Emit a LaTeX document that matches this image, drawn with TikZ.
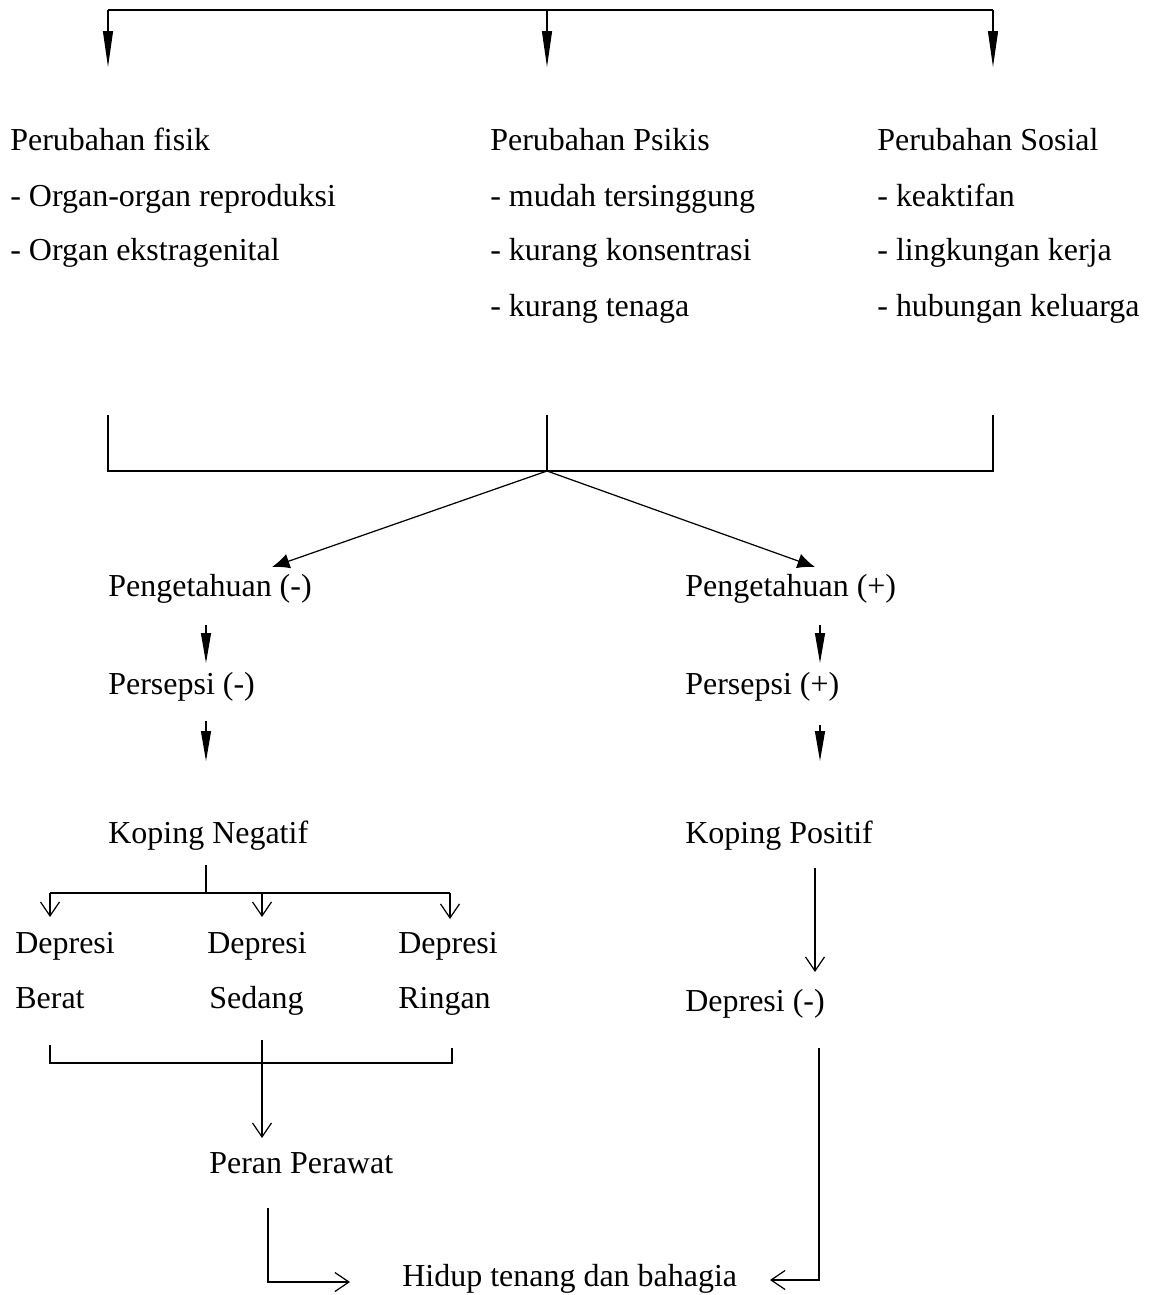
\documentclass[tikz,border=0pt]{standalone}
\usepackage{fontspec}
\setmainfont{Liberation Serif}
\usetikzlibrary{arrows.meta}
\begin{document}
\begin{tikzpicture}[x=0.02cm,y=-0.02cm,
  txt/.style={anchor=base west,inner sep=0pt,font=\fontsize{18.2}{22}\selectfont},
  ln/.style={line width=0.7pt},
  bigtip/.style={ln,-{Triangle[length=0.72cm,width=0.2cm]}},
  smalltip/.style={ln,-{Triangle[length=0.6cm,width=0.2cm]}},
  diagtip/.style={ln,-{Latex[length=0.35cm,width=0.3cm]}},
  vtip/.style={ln,-{Straight Barb[length=0.28cm,width=0.38cm]}}]
\useasboundingbox (0,0) rectangle (1157,1295);
% texts
\node[txt] (f0) at (10,150) {Perubahan fisik};
\node[txt] (f1) at (10,206) {- Organ-organ reproduksi};
\node[txt] (f2) at (10,260) {- Organ ekstragenital};
\node[txt] (p0) at (490,150) {Perubahan Psikis};
\node[txt] (p1) at (490,206) {- mudah tersinggung};
\node[txt] (p2) at (490,260) {- kurang konsentrasi};
\node[txt] (p3) at (490,316) {- kurang tenaga};
\node[txt] (s0) at (877,150) {Perubahan Sosial};
\node[txt] (s1) at (877,206) {- keaktifan};
\node[txt] (s2) at (877,260) {- lingkungan kerja};
\node[txt] (s3) at (877,316) {- hubungan keluarga};
\node[txt] (pgn) at (108,596) {Pengetahuan (-)};
\node[txt] (pgp) at (685,596) {Pengetahuan (+)};
\node[txt] (psn) at (108,694) {Persepsi (-)};
\node[txt] (psp) at (685,694) {Persepsi (+)};
\node[txt] (kn) at (108,843) {Koping Negatif};
\node[txt] (kp) at (685,843) {Koping Positif};
\node[txt] (d1) at (15,953) {Depresi};
\node[txt] (d2) at (207,953) {Depresi};
\node[txt] (d3) at (398,953) {Depresi};
\node[txt] (b1) at (15,1008) {Berat};
\node[txt] (b2) at (209,1008) {Sedang};
\node[txt] (b3) at (398,1008) {Ringan};
\node[txt] (dm) at (685,1011) {Depresi (-)};
\node[txt] (pp) at (209,1173) {Peran Perawat};
\node[txt] (hd) at (402,1286) {Hidup tenang dan bahagia};
% coordinates
\coordinate (tL) at (108,10);
\coordinate (tM) at (547,10);
\coordinate (tR) at (993,10);
\coordinate (aL) at (108,67);
\coordinate (aM) at (547,67);
\coordinate (aR) at (993,67);
\coordinate (uL) at (108,415);
\coordinate (uM) at (547,415);
\coordinate (uR) at (993,415);
\coordinate (lL) at (108,471);
\coordinate (lM) at (547,471);
\coordinate (lR) at (993,471);
\coordinate (gL) at (272,567);
\coordinate (gR) at (815,567);
% top bracket
\draw[ln] (tL) -- (tR);
\draw[bigtip] (tL) -- (aL);
\draw[bigtip] (tM) -- (aM);
\draw[bigtip] (tR) -- (aR);
% middle bracket
\draw[ln] (uL) -- (lL) -- (lR) -- (uR);
\draw[ln] (uM) -- (lM);
\draw[diagtip] (lM) -- (gL);
\draw[diagtip] (lM) -- (gR);
% chains
\coordinate (c1a) at (206,625); \coordinate (c1b) at (206,663);
\coordinate (c2a) at (206,721); \coordinate (c2b) at (206,761);
\coordinate (c3a) at (820,625); \coordinate (c3b) at (820,663);
\coordinate (c4a) at (820,725); \coordinate (c4b) at (820,761);
\draw[smalltip] (c1a) -- (c1b);
\draw[smalltip] (c2a) -- (c2b);
\draw[smalltip] (c3a) -- (c3b);
\draw[smalltip] (c4a) -- (c4b);
% koping negatif split
\coordinate (kn1) at (206,865);
\coordinate (kn2) at (206,893);
\coordinate (hL) at (50,893);
\coordinate (hM) at (262,893);
\coordinate (hR) at (450,893);
\coordinate (vL) at (50,917);
\coordinate (vM) at (262,917);
\coordinate (vR) at (450,919);
\draw[ln] (kn1) -- (kn2);
\draw[ln] (hL) -- (hR);
\draw[vtip] (hL) -- (vL);
\draw[vtip] (hM) -- (vM);
\draw[vtip] (hR) -- (vR);
% lower bracket
\coordinate (q1) at (50,1045);
\coordinate (q2) at (50,1063);
\coordinate (q3) at (452,1063);
\coordinate (q4) at (452,1048);
\coordinate (q5) at (262,1040);
\coordinate (q6) at (262,1138);
\draw[ln] (q1) -- (q2) -- (q3) -- (q4);
\draw[vtip] (q5) -- (q6);
% peran to hidup
\coordinate (r1) at (268,1208);
\coordinate (r2) at (268,1282);
\coordinate (r3) at (350,1282);
\draw[vtip] (r1) -- (r2) -- (r3);
% koping positif
\coordinate (k1) at (815,868);
\coordinate (k2) at (815,972);
\draw[vtip] (k1) -- (k2);
% depresi (-) to hidup
\coordinate (e1) at (819,1048);
\coordinate (e2) at (819,1280);
\coordinate (e3) at (770,1280);
\draw[vtip] (e1) -- (e2) -- (e3);
\end{tikzpicture}
\end{document}
